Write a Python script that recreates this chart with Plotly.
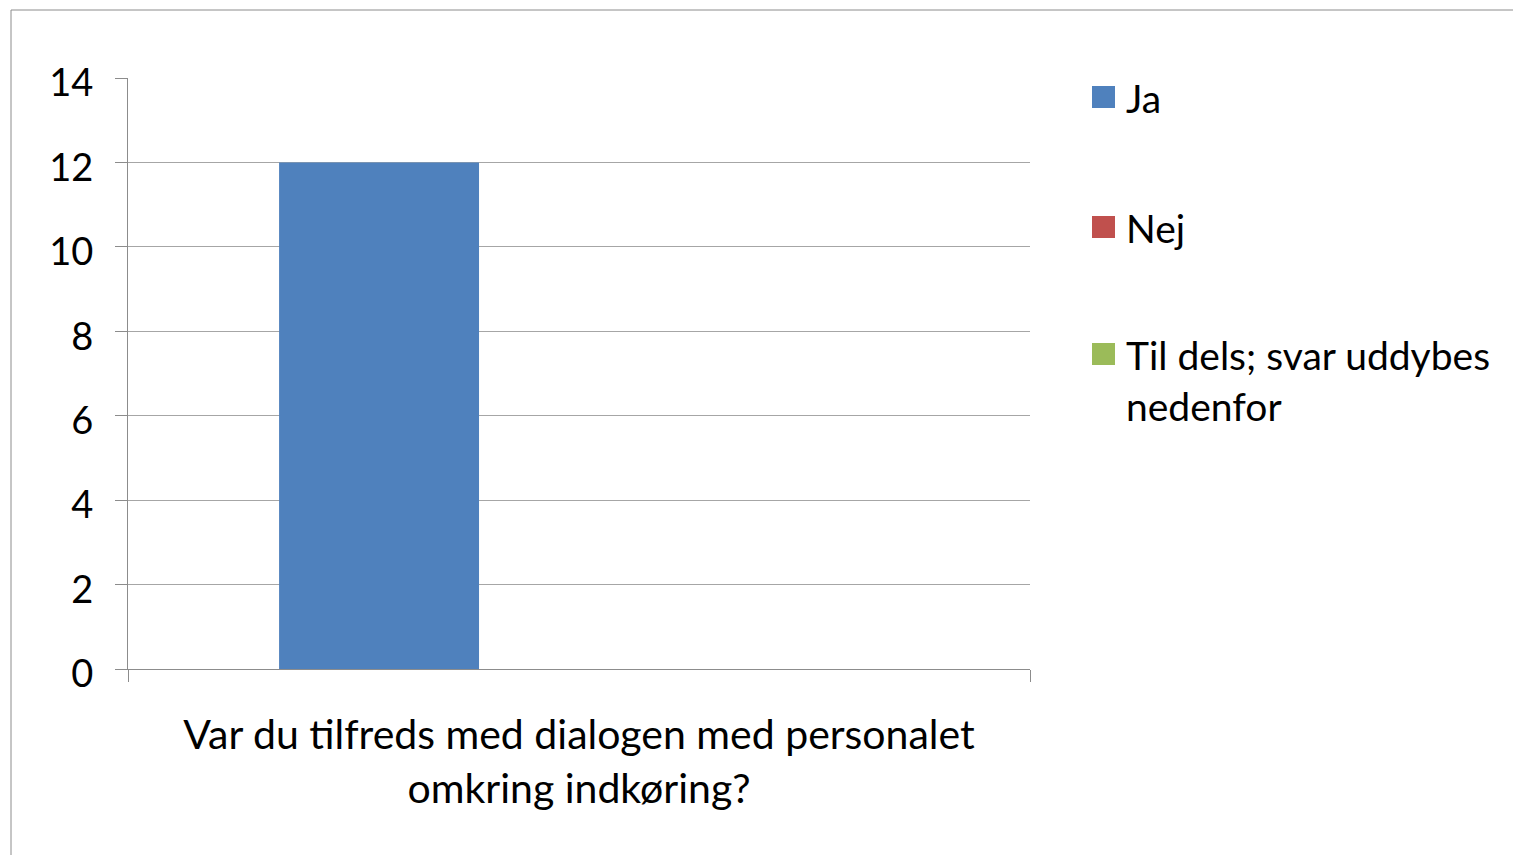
import plotly.graph_objects as go

# data
category = ["Var du tilfreds med dialogen med personalet<br>omkring indkøring?"]
series = ["Ja", "Nej", "Til dels; svar uddybes<br>nedenfor"]
values = [12, 0, 0]
colors = ["#4F81BD", "#C0504D", "#9BBB59"]
y_ticks = [0, 2, 4, 6, 8, 10, 12, 14]

W, H = 1521, 855
OFF = 8  # page body margin
L, R, T, B = 128 - OFF, 1030 - OFF, 78 - OFF, 669 - OFF
FONT = "Lato"
GRAY = "#8c8c8c"


def px_x(p):
    return (p - OFF - L) / (R - L)


def px_y(p):
    return (B - (p - OFF)) / (B - T)


fig = go.Figure()
for name, v, c in zip(series, values, colors):
    fig.add_trace(go.Bar(x=category, y=[v], name=name, marker_color=c,
                         marker_line_width=0, showlegend=False))

fig.update_layout(
    width=W, height=H,
    margin=dict(l=L, r=W - R, t=T, b=H - B),
    plot_bgcolor="white", paper_bgcolor="white",
    barmode="group", bargap=0.335, bargroupgap=0,
    font=dict(family=FONT, size=38, color="black"),
)
fig.update_yaxes(range=[0, 14], tickvals=y_ticks, showgrid=True, gridcolor="#a6a6a6",
                 gridwidth=1, zeroline=False, showline=True, linecolor=GRAY,
                 ticks="outside", ticklen=12, tickcolor=GRAY, ticklabelstandoff=14,
                 ticklabelshift=5, tickfont=dict(size=38))
fig.update_xaxes(showline=True, linecolor=GRAY, ticks="outside", ticklen=12,
                 tickcolor=GRAY, tickson="boundaries", ticklabelstandoff=30,
                 tickfont=dict(size=41))

# chart-area border (cropped at right/bottom in the original)
fig.add_shape(type="rect", xref="paper", yref="paper",
              x0=px_x(11), x1=px_x(1600), y0=px_y(900), y1=px_y(10),
              line=dict(color=GRAY, width=1), fillcolor="rgba(0,0,0,0)")

# legend drawn by hand to get the large swatches and spacing
leg_y = [97, 227, 354]
for name, c, yc in zip(series, colors, leg_y):
    fig.add_shape(type="rect", xref="paper", yref="paper",
                  x0=px_x(1092), x1=px_x(1115), y0=px_y(yc + 11), y1=px_y(yc - 11),
                  fillcolor=c, line_width=0)
    fig.add_annotation(text=name, xref="paper", yref="paper",
                       x=px_x(1124), y=px_y(yc - 24), xanchor="left", yanchor="top",
                       align="left", showarrow=False, font=dict(size=39))

fig.write_html("out.html")
